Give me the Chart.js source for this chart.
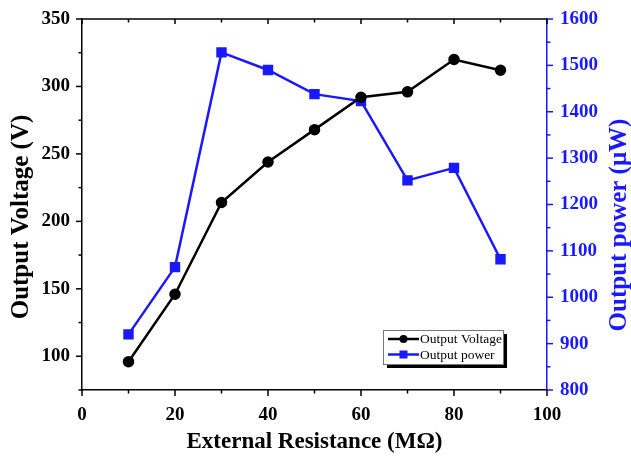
<!DOCTYPE html>
<html>
<head>
<meta charset="utf-8">
<script src="https://cdn.jsdelivr.net/npm/chart.js@4"></script>
<style>
  html, body { margin: 0; padding: 0; background: #fff; }
  canvas { display: block; }
</style>
</head>
<body>
<canvas id="myChart" width="631" height="459"></canvas>
<script>
// data
const resistance = [10, 20, 30, 40, 50, 60, 70, 80, 90];
const voltage = [96, 146, 214, 244, 268, 292, 296, 320, 312];
const power = [920, 1065, 1528, 1490, 1438, 1423, 1252, 1279, 1082];

const xTicks = [0, 20, 40, 60, 80, 100];
const voltTicks = [100, 150, 200, 250, 300, 350];
const powerTicks = [800, 900, 1000, 1100, 1200, 1300, 1400, 1500, 1600];

const BLUE = 'rgb(25, 25, 255)';
const SERIF = "'Liberation Serif', 'Times New Roman', serif";

function toPoints(xs, ys) {
  return xs.map((x, i) => ({ x: x, y: ys[i] }));
}

// ticks, top border, y titles and the boxed legend
const framePlugin = {
  id: 'frame',
  afterDraw(chart) {
    const ctx = chart.ctx;
    const area = chart.chartArea;
    const x = chart.scales.x, y = chart.scales.y, y1 = chart.scales.y1;
    ctx.save();

    // top border
    ctx.strokeStyle = '#000';
    ctx.lineWidth = 1.5;
    ctx.beginPath();
    ctx.moveTo(area.left, area.top);
    ctx.lineTo(area.right, area.top);
    ctx.stroke();

    // bottom + top ticks
    for (let v = 0; v <= 100; v += 10) {
      const px = x.getPixelForValue(v);
      const major = v % 20 === 0;
      ctx.beginPath();
      ctx.moveTo(px, area.bottom);
      ctx.lineTo(px, area.bottom + (major ? 6 : 3.5));
      ctx.moveTo(px, area.top);
      ctx.lineTo(px, area.top + (major ? 5 : 3.5));
      ctx.stroke();
    }
    // left ticks
    for (let v = 75; v <= 350; v += 25) {
      const py = y.getPixelForValue(v);
      const major = v % 50 === 0;
      ctx.beginPath();
      ctx.moveTo(area.left, py);
      ctx.lineTo(area.left - (major ? 6 : 3.5), py);
      ctx.stroke();
    }
    // right ticks
    ctx.strokeStyle = BLUE;
    for (let v = 800; v <= 1600; v += 50) {
      const py = y1.getPixelForValue(v);
      const major = v % 100 === 0;
      ctx.beginPath();
      ctx.moveTo(area.right, py);
      ctx.lineTo(area.right + (major ? 6 : 3.5), py);
      ctx.stroke();
    }

    // y axis titles (both read bottom to top)
    ctx.font = 'bold 25px ' + SERIF;
    ctx.textAlign = 'center';
    ctx.textBaseline = 'middle';
    ctx.fillStyle = '#000';
    ctx.save();
    ctx.translate(22, 217);
    ctx.rotate(-Math.PI / 2);
    ctx.fillText('Output Voltage (V)', 0, 0);
    ctx.restore();
    ctx.fillStyle = BLUE;
    ctx.save();
    ctx.translate(620, 225);
    ctx.rotate(-Math.PI / 2);
    ctx.fillText('Output power (\u03bcW)', 0, 0);
    ctx.restore();

    // legend box with drop shadow
    const bx = 383, by = 330, bw = 120, bh = 34;
    ctx.fillStyle = '#000';
    ctx.fillRect(bx + 4, by + 4, bw, bh);
    ctx.fillStyle = '#fff';
    ctx.fillRect(bx, by, bw, bh);
    ctx.strokeStyle = '#777';
    ctx.lineWidth = 1;
    ctx.strokeRect(bx + 0.5, by + 0.5, bw, bh);

    ctx.font = '13.5px ' + SERIF;
    ctx.textAlign = 'left';
    chart.data.datasets.forEach((ds, i) => {
      const ly = by + 9 + i * 15.5;
      ctx.strokeStyle = ds.borderColor;
      ctx.lineWidth = 2.5;
      ctx.beginPath();
      ctx.moveTo(bx + 5, ly);
      ctx.lineTo(bx + 36, ly);
      ctx.stroke();
      ctx.fillStyle = ds.backgroundColor;
      if (ds.pointStyle === 'rect') {
        ctx.fillRect(bx + 20.5 - 4, ly - 4, 8, 8);
      } else {
        ctx.beginPath();
        ctx.arc(bx + 20.5, ly, 4, 0, Math.PI * 2);
        ctx.fill();
      }
      ctx.fillStyle = '#000';
      ctx.fillText(ds.label, bx + 37, ly + 0.5);
    });

    ctx.restore();
  }
};

const config = {
  type: 'line',
  data: {
    datasets: [{
      label: 'Output Voltage',
      data: toPoints(resistance, voltage),
      yAxisID: 'y',
      borderColor: '#000',
      backgroundColor: '#000',
      borderWidth: 2.5,
      pointStyle: 'circle',
      pointRadius: 4.5,
      pointHoverRadius: 4.5,
      tension: 0
    }, {
      label: 'Output power',
      data: toPoints(resistance, power),
      yAxisID: 'y1',
      borderColor: BLUE,
      backgroundColor: BLUE,
      borderWidth: 2.5,
      pointStyle: 'rect',
      pointRadius: 5.6,
      pointHoverRadius: 5.6,
      tension: 0
    }]
  },
  options: {
    responsive: false,
    animation: false,
    layout: { padding: { top: 19, left: 0, right: 0, bottom: 0 } },
    plugins: {
      legend: { display: false },
      tooltip: { enabled: false }
    },
    scales: {
      x: {
        type: 'linear',
        position: 'bottom',
        min: 0,
        max: 100,
        afterBuildTicks: s => { s.ticks = xTicks.map(v => ({ value: v })); },
        afterFit: s => { s.height = 69; },
        grid: { display: false },
        border: { display: true, color: '#000', width: 1.5 },
        ticks: {
          color: '#000',
          padding: 6,
          maxRotation: 0,
          font: { family: SERIF, size: 19, weight: 'bold' }
        },
        title: {
          display: true,
          text: 'External Resistance (M\u03a9)',
          color: '#000',
          padding: { top: 0, bottom: 3 },
          font: { family: SERIF, size: 23, weight: 'bold' }
        }
      },
      y: {
        type: 'linear',
        position: 'left',
        min: 75,
        max: 350,
        afterBuildTicks: s => { s.ticks = voltTicks.map(v => ({ value: v })); },
        afterFit: s => { s.width = 82; },
        grid: { display: false },
        border: { display: true, color: '#000', width: 1.5 },
        ticks: {
          color: '#000',
          padding: 4,
          font: { family: SERIF, size: 19, weight: 'bold' }
        }
      },
      y1: {
        type: 'linear',
        position: 'right',
        min: 800,
        max: 1600,
        afterBuildTicks: s => { s.ticks = powerTicks.map(v => ({ value: v })); },
        afterFit: s => { s.width = 84; },
        grid: { display: false },
        border: { display: true, color: BLUE, width: 1.5 },
        ticks: {
          color: BLUE,
          padding: 5,
          callback: v => String(v),
          font: { family: SERIF, size: 19, weight: 'bold' }
        }
      }
    }
  },
  plugins: [framePlugin]
};

const myChart = new Chart(document.getElementById('myChart'), config);
</script>
</body>
</html>
